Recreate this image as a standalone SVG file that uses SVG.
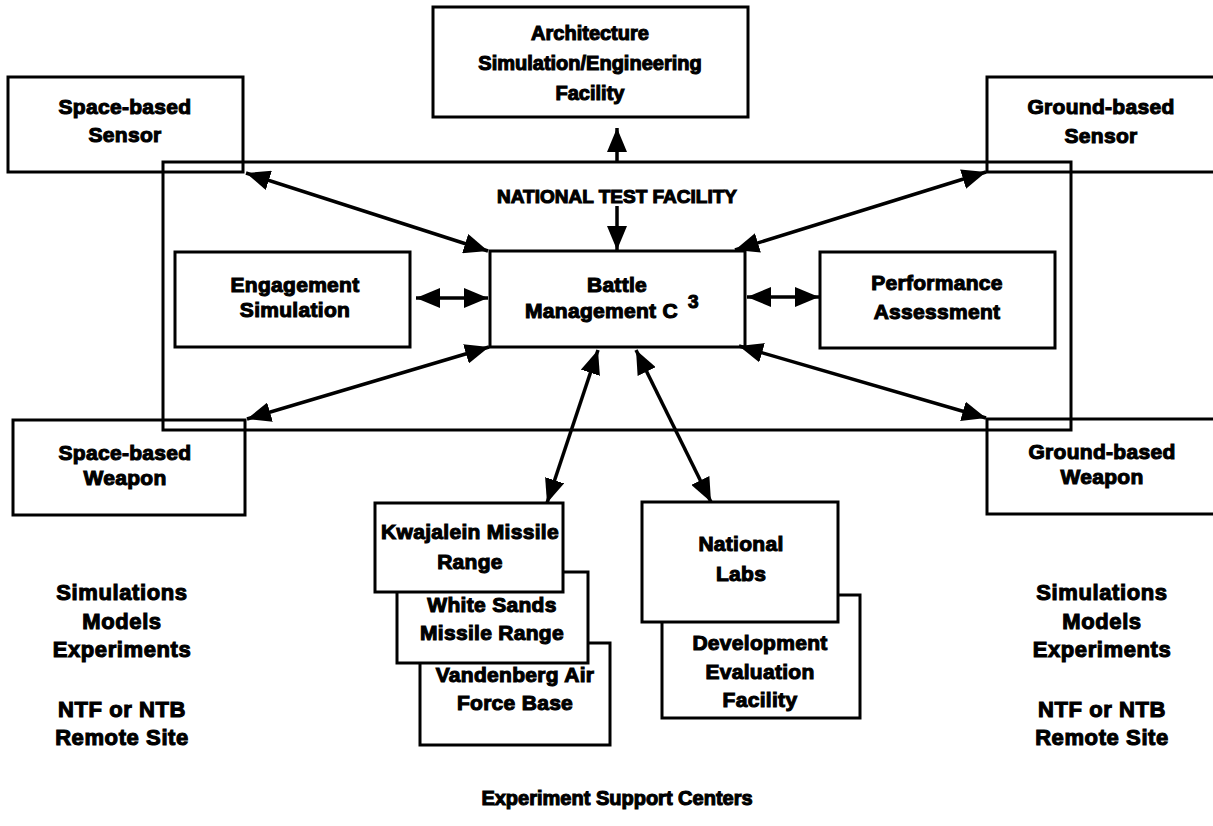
<svg xmlns="http://www.w3.org/2000/svg" width="1213" height="826" viewBox="0 0 1213 826">
<style>
.box{fill:none;stroke:#000;stroke-width:3}
.wbox{fill:#fff;stroke:#000;stroke-width:3}
.t{font-family:"Liberation Sans",Arial,sans-serif;font-weight:bold;font-size:21px;letter-spacing:0.3px;fill:#000;stroke:#000;stroke-width:1.1;text-anchor:middle}
.s{font-size:22px;letter-spacing:0.6px}
.a{font-size:20px;letter-spacing:0}
.c{fill:none;stroke:#000;stroke-width:3.5}
</style>
<defs>
<marker id="ah" viewBox="0 0 24 20" refX="24" refY="10" markerWidth="24" markerHeight="20" markerUnits="userSpaceOnUse" orient="auto-start-reverse">
<path d="M0,0 L24,10 L0,20 z" fill="#000"/>
</marker>
</defs>
<rect width="1213" height="826" fill="#fff"/>
<g id="ntf">
<rect class="box" x="163" y="162" width="908" height="268"/>
<text class="t a" x="617" y="203" style="font-size:19px">NATIONAL  TEST FACILITY</text>
</g>
<g id="arch">
<rect class="box" x="433" y="7" width="315" height="110"/>
<text class="t a" x="590" y="40">Architecture</text>
<text class="t a" x="590" y="70">Simulation/Engineering</text>
<text class="t a" x="590" y="100">Facility</text>
</g>
<g id="space-sensor">
<rect class="box" x="8" y="77" width="235" height="95"/>
<text class="t" x="125" y="114">Space-based</text>
<text class="t" x="125" y="142">Sensor</text>
</g>
<g id="ground-sensor">
<rect class="box" x="987" y="77" width="240" height="95"/>
<text class="t" x="1101" y="114">Ground-based</text>
<text class="t" x="1101" y="143">Sensor</text>
</g>
<g id="space-weapon">
<rect class="box" x="13" y="420" width="232" height="95"/>
<text class="t" x="125" y="460">Space-based</text>
<text class="t" x="125" y="485">Weapon</text>
</g>
<g id="ground-weapon">
<rect class="box" x="987" y="419" width="240" height="95"/>
<text class="t" x="1102" y="459">Ground-based</text>
<text class="t" x="1102" y="484">Weapon</text>
</g>
<g id="engagement">
<rect class="box" x="175" y="252" width="235" height="95"/>
<text class="t" x="295" y="292">Engagement</text>
<text class="t" x="295" y="317">Simulation</text>
</g>
<g id="battle">
<rect class="box" x="490" y="251" width="255" height="96"/>
<text class="t" x="617" y="292">Battle</text>
<text class="t" x="612" y="318">Management C <tspan dx="4" dy="-10" style="font-size:19px">3</tspan></text>
</g>
<g id="performance">
<rect class="box" x="820" y="252" width="235" height="96"/>
<text class="t" x="937" y="290">Performance</text>
<text class="t" x="937" y="319">Assessment</text>
</g>
<g id="vandenberg">
<rect class="wbox" x="420" y="643" width="190" height="102"/>
<text class="t" x="515" y="682">Vandenberg Air</text>
<text class="t" x="515" y="710">Force Base</text>
</g>
<g id="white-sands">
<rect class="wbox" x="397" y="572" width="191" height="91"/>
<text class="t" x="492" y="612">White Sands</text>
<text class="t" x="492" y="640">Missile Range</text>
</g>
<g id="kwajalein">
<rect class="wbox" x="375" y="503" width="188" height="89"/>
<text class="t" x="470" y="539">Kwajalein Missile</text>
<text class="t" x="470" y="569">Range</text>
</g>
<g id="dev-eval">
<rect class="wbox" x="662" y="595" width="198" height="123"/>
<text class="t" x="760" y="650">Development</text>
<text class="t" x="760" y="679">Evaluation</text>
<text class="t" x="760" y="707">Facility</text>
</g>
<g id="national-labs">
<rect class="wbox" x="642" y="502" width="196" height="120"/>
<text class="t" x="741" y="551">National</text>
<text class="t" x="741" y="581">Labs</text>
</g>
<g id="left-notes">
<text class="t s" x="122" y="600">Simulations</text>
<text class="t s" x="122" y="629">Models</text>
<text class="t s" x="122" y="657">Experiments</text>
<text class="t s" x="122" y="717">NTF or NTB</text>
<text class="t s" x="122" y="745">Remote Site</text>
</g>
<g id="right-notes">
<text class="t s" x="1102" y="600">Simulations</text>
<text class="t s" x="1102" y="629">Models</text>
<text class="t s" x="1102" y="657">Experiments</text>
<text class="t s" x="1102" y="717">NTF or NTB</text>
<text class="t s" x="1102" y="745">Remote Site</text>
</g>
<g id="footer">
<text class="t a" x="617" y="805">Experiment Support Centers</text>
</g>
<g id="connectors">
<line class="c" x1="246" y1="173" x2="488" y2="251" marker-start="url(#ah)" marker-end="url(#ah)"/>
<line class="c" x1="986" y1="172" x2="735" y2="250" marker-start="url(#ah)" marker-end="url(#ah)"/>
<line class="c" x1="489" y1="347" x2="247" y2="419" marker-start="url(#ah)" marker-end="url(#ah)"/>
<line class="c" x1="739" y1="346" x2="986" y2="418" marker-start="url(#ah)" marker-end="url(#ah)"/>
<line class="c" x1="416" y1="298" x2="488" y2="298" marker-start="url(#ah)" marker-end="url(#ah)"/>
<line class="c" x1="747" y1="297" x2="819" y2="297" marker-start="url(#ah)" marker-end="url(#ah)"/>
<line class="c" x1="617" y1="162" x2="617" y2="128" marker-end="url(#ah)"/>
<line class="c" x1="617" y1="206" x2="617" y2="250" marker-end="url(#ah)"/>
<line class="c" x1="598" y1="350" x2="547" y2="503" marker-start="url(#ah)" marker-end="url(#ah)"/>
<line class="c" x1="636" y1="350" x2="711" y2="502" marker-start="url(#ah)" marker-end="url(#ah)"/>
</g>
</svg>
